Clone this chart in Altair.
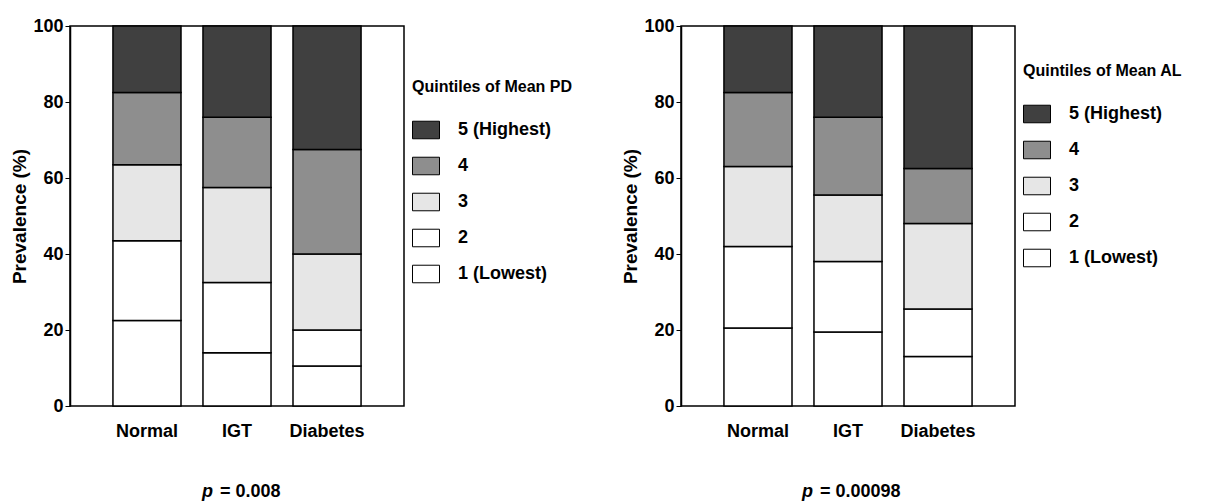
import altair as alt
import pandas as pd

groups = ["Normal", "IGT", "Diabetes"]
quintiles = ["1 (Lowest)", "2", "3", "4", "5 (Highest)"]
legend_order = ["5 (Highest)", "4", "3", "2", "1 (Lowest)"]
legend_colors = ["#404040", "#8e8e8e", "#e6e6e6", "#ffffff", "#ffffff"]

pd_normal = [22.5, 21, 20, 19, 17.5]
pd_igt = [14, 18.5, 25, 18.5, 24]
pd_diabetes = [10.5, 9.5, 20, 27.5, 32.5]

al_normal = [20.5, 21.5, 21, 19.5, 17.5]
al_igt = [19.5, 18.5, 17.5, 20.5, 24]
al_diabetes = [13, 12.5, 22.5, 14.5, 37.5]

FONT = "Liberation Sans"


def make_df(series):
    rows = []
    for g, vals in zip(groups, series):
        for i, (q, v) in enumerate(zip(quintiles, vals)):
            rows.append({"group": g, "quintile": q, "qn": i + 1, "value": v})
    return pd.DataFrame(rows)


def panel(df, legend_title, legend_y, p_x, rest_x, p_rest):
    bars = alt.Chart(df).mark_bar(stroke="black", strokeWidth=1.5).encode(
        x=alt.X(
            "group:N",
            sort=groups,
            title=None,
            scale=alt.Scale(paddingInner=0.244, paddingOuter=0.477),
            axis=alt.Axis(
                labelAngle=0, ticks=False, domain=False, labelPadding=16,
                labelFont=FONT, labelFontSize=18, labelFontWeight="bold",
                labelColor="black",
            ),
        ),
        y=alt.Y(
            "value:Q",
            stack="zero",
            title="Prevalence (%)",
            scale=alt.Scale(domain=[0, 100], nice=False),
            axis=alt.Axis(
                values=[0, 20, 40, 60, 80, 100], grid=False, tickSize=5,
                tickColor="black", domainColor="black", domainWidth=1.5,
                labelFont=FONT, labelFontSize=18, labelFontWeight="bold",
                labelColor="black", labelPadding=2, titleFont=FONT, titleFontSize=19,
                titleFontWeight="bold", titleColor="black", titlePadding=3,
            ),
        ),
        color=alt.Color(
            "quintile:N",
            scale=alt.Scale(domain=legend_order, range=legend_colors),
            legend=alt.Legend(
                title=legend_title, orient="none", legendX=342, legendY=legend_y,
                titleFont=FONT, titleFontSize=16, titleFontWeight="bold",
                titleColor="black", titlePadding=21,
                labelFont=FONT, labelFontSize=18, labelFontWeight="bold",
                labelColor="black", labelOffset=18,
                symbolType="M-1,-0.65L1,-0.65L1,0.65L-1,0.65Z",
                symbolSize=729, symbolStrokeColor="black", symbolStrokeWidth=1,
                symbolOpacity=1, rowPadding=11, offset=0,
            ),
        ),
        order=alt.Order("qn:Q", sort="ascending"),
    )
    ptxt = alt.Chart(pd.DataFrame({"t": ["p"]})).mark_text(
        font=FONT, fontSize=18, fontWeight="bold", fontStyle="italic",
        align="left", baseline="middle", color="black",
    ).encode(x=alt.value(p_x), y=alt.value(466), text="t:N")
    rtxt = alt.Chart(pd.DataFrame({"t": [p_rest]})).mark_text(
        font=FONT, fontSize=18, fontWeight="bold",
        align="left", baseline="middle", color="black",
    ).encode(x=alt.value(rest_x), y=alt.value(466), text="t:N")
    return alt.layer(bars, ptxt, rtxt).properties(width=334, height=380)


left = panel(make_df([pd_normal, pd_igt, pd_diabetes]), "Quintiles of Mean PD", 53, 132, 150, "= 0.008")
right = panel(make_df([al_normal, al_igt, al_diabetes]), "Quintiles of Mean AL", 37, 121, 139, "= 0.00098")

chart = alt.hconcat(left, right, spacing=47).resolve_scale(color="independent").properties(
    padding={"left": 10, "top": 16, "right": 5, "bottom": 2}
).configure_view(stroke="black", strokeWidth=1.5, fill="white")

chart.save("out.html", embed_options={"renderer": "svg", "actions": False})
